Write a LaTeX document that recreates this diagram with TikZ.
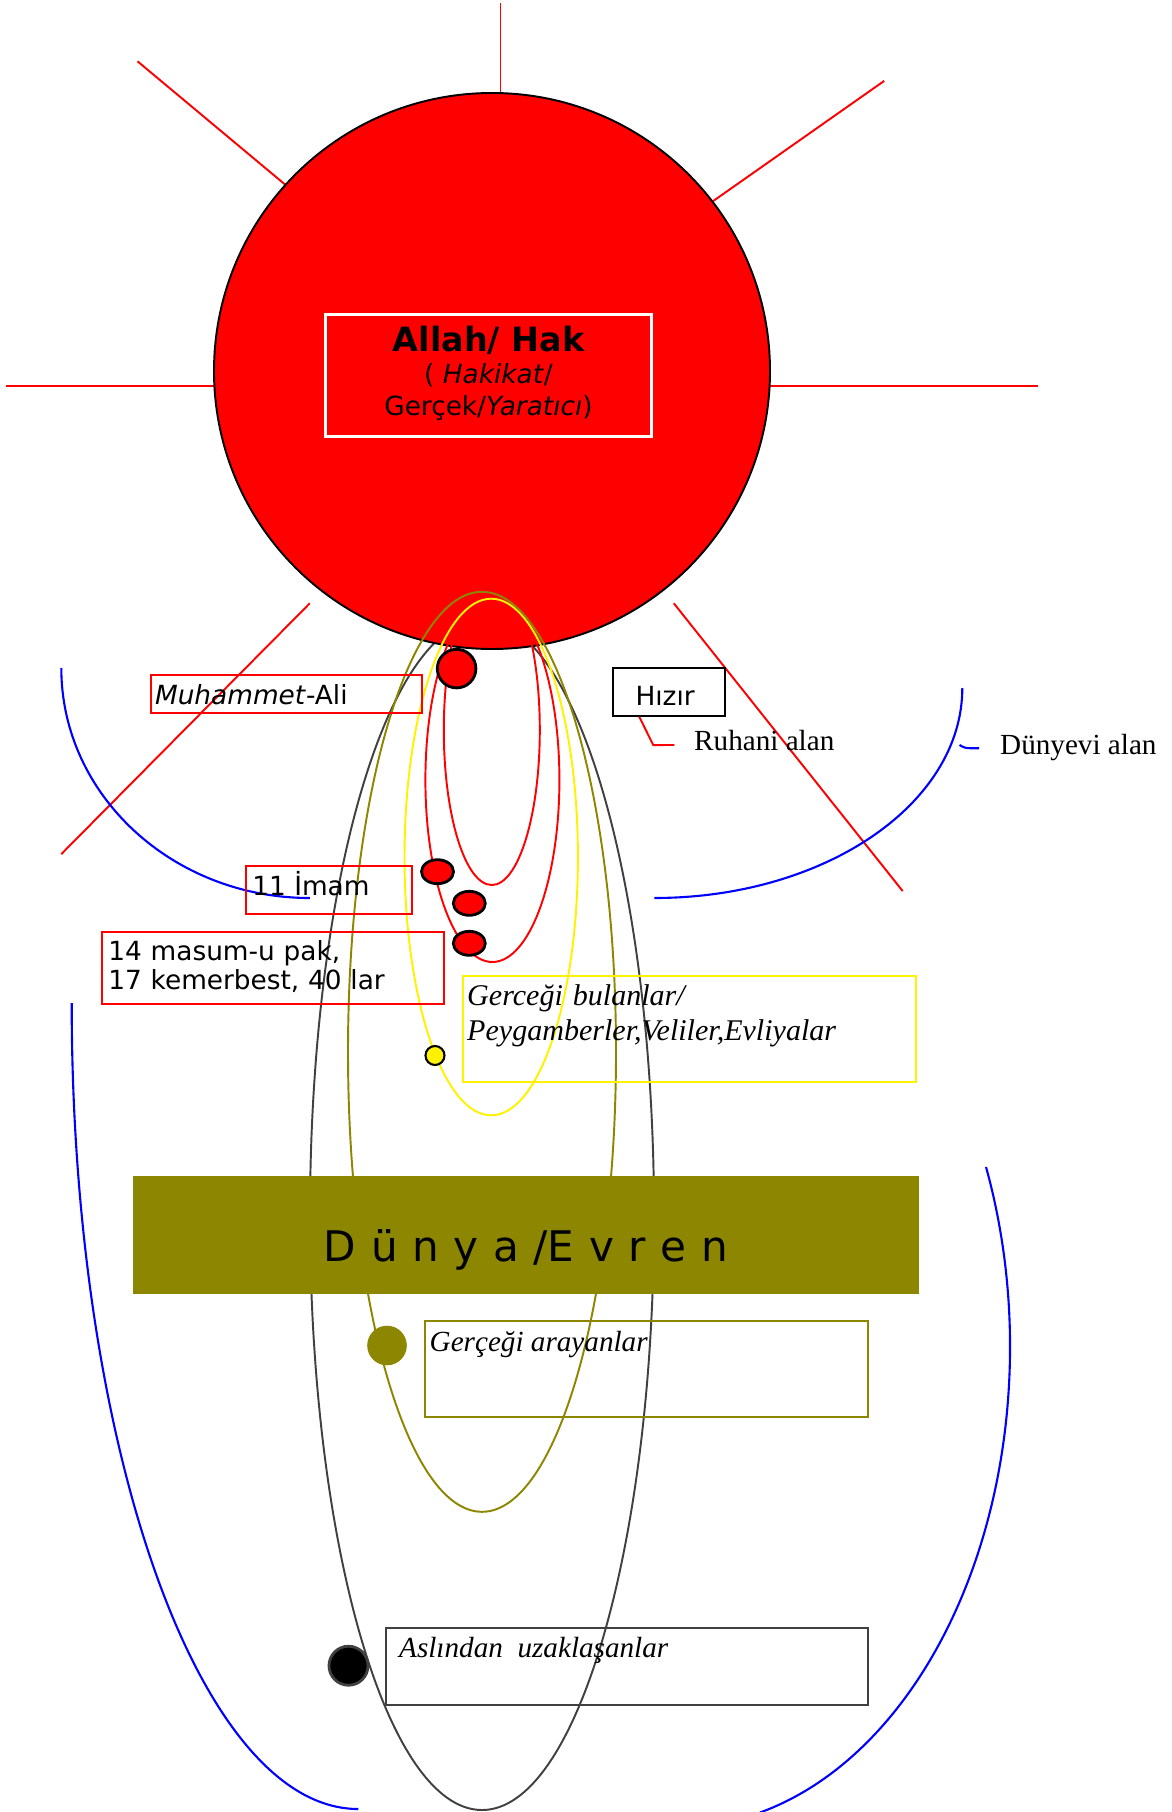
\documentclass[tikz,border=0pt]{standalone}
\usepackage{fontspec}
\setmainfont{Liberation Serif}
\setsansfont{DejaVu Sans}

\begin{document}
\begin{tikzpicture}[x=0.1mm, y=-0.1mm,
  ray/.style={red, line width=0.55pt},
  orbit/.style={line width=0.55pt},
  field/.style={blue, line width=0.6pt},
  box/.style={draw, line width=0.6pt, inner sep=0pt},
  sans/.style={font=\sffamily\fontsize{7.5}{8.5}\selectfont, inner sep=0pt, anchor=base west},
  serif/.style={font=\fontsize{8.3}{9.76}\selectfont, inner sep=0pt, anchor=base west},
  emtxt/.style={serif, font=\fontsize{8.3}{9.76}\selectfont\itshape},
  dot/.style={draw=black, fill=red, line width=0.8pt}]

  \useasboundingbox (0,0) rectangle (1172,1812);

  % Outer orbit, behind the sun
  \draw[orbit, darkgray] (482,1215) ellipse [x radius=172, y radius=595];

  % Rays
  \draw[ray] (500.5,3.5) -- (500.5,92.5);
  \draw[ray] (137.5,61.3) -- (285.5,184.9);
  \draw[ray] (884.2,80.9) -- (713.1,201.1);
  \draw[ray] (5.8,386) -- (213.8,386);
  \draw[ray] (769.8,386) -- (1037.9,386);
  \draw[ray] (309.8,603.3) -- (61.3,854.1);
  \draw[ray] (673.8,603.3) -- (902.7,891.1);

  % Sun
  \draw[fill=red, line width=0.55pt] (492,371) circle [radius=278];
  \node[box, draw=white, line width=0.8pt, minimum width=32.6mm, minimum height=12.24mm] (hakbox) at (488.7,375.5) {};
  \node[align=center, font=\sffamily\fontsize{7.5}{9.2}\selectfont, inner sep=0pt] (hak) at (488.5,373.5)
    {{\fontsize{9.5}{9.5}\selectfont\bfseries Allah/ Hak}\\( \textit{Hakikat}/\\Gerçek/\textit{Yaratıcı})};

  % Orbits
  \draw[orbit, red] (491.8,730) ellipse [x radius=48, y radius=155];
  \draw[orbit, red] (492.4,780) ellipse [x radius=67, y radius=182];
  \draw[orbit, yellow] (491.2,857) ellipse [x radius=86.7, y radius=258.3];
  \draw[orbit, olive] (482,1051.8) ellipse [x radius=134, y radius=460];

  % Fields
  \draw[field] (61.3,668) arc [start angle=180, end angle=90, x radius=248.5, y radius=230];
  \draw[field] (962.3,688) arc [start angle=0, end angle=90, x radius=308, y radius=210];
  \draw[field] (71.7,1003.2) arc [start angle=180, end angle=90, x radius=286.6, y radius=805.8];
  \draw[field] (986,1167) arc [start angle=-22, end angle=76, x radius=330, y radius=480];

  % Dunya
  \node[box, draw=olive, fill=olive, minimum width=78.4mm, minimum height=11.67mm] (dunya) at (526,1235) {};
  \node[font=\sffamily\fontsize{12}{14}\selectfont, inner sep=0pt, anchor=base] (dunyat) at (525.9,1261.7)
    {\spaceskip=4.15pt D ü n y a /E v r e n};

  % Boxes
  \node[box, draw=red, minimum width=27.1mm, minimum height=3.83mm] (mali) at (286.2,694.2) {};
  \node[box, minimum width=11.26mm, minimum height=4.74mm] (hizir) at (669.1,692) {};
  \node[box, draw=red, minimum width=16.6mm, minimum height=4.8mm] (imam) at (329,890) {};
  \node[box, draw=red, minimum width=34.2mm, minimum height=7.2mm] (masum) at (273.3,967.7) {};
  \node[box, draw=yellow, minimum width=45.33mm, minimum height=10.57mm] (bulan) at (689.4,1028.9) {};
  \node[box, draw=olive, minimum width=44.27mm, minimum height=9.6mm] (arayan) at (646.7,1369) {};
  \node[box, draw=darkgray, minimum width=48.2mm, minimum height=7.65mm] (uzak) at (627,1666.3) {};

  % Labels
  \node[sans] (malit) at (154.3,704.3) {\textit{Muhammet}-Ali};
  \node[sans] (hizirt) at (634.8,705.7) {Hızır};
  \node[serif] (ruhani) at (693.5,750) {Ruhani alan};
  \node[serif] (dunyevi) at (999.5,754) {Dünyevi alan};
  \node[sans] (imamt) at (251.7,895.7) {11 İmam};
  \node[sans, text width=33mm, align=left] (masumt) at (107.7,960) {14 masum-u pak,\\17 kemerbest, 40 lar};
  \node[emtxt, font=\fontsize{8.55}{9.76}\selectfont\itshape, text width=44mm, align=left] (bulant) at (466.5,1005.7)
    {Gerceği bulanlar/\\Peygamberler,Veliler,Evliyalar};
  \node[emtxt] (arayant) at (429,1351) {Gerçeği arayanlar};
  \node[emtxt] (uzakt) at (398.5,1657) {Aslından~ uzaklaşanlar};

  % Leaders
  \draw[ray] ([xshift=2.75mm]hizir.south west) -- ++(14,28.3) -- ([xshift=-1.92mm, yshift=0.5mm]ruhani.base west);
  \coordinate (tick) at (959.5,745);
  \draw[field] (tick) .. controls (965,748.3) .. ([xshift=-2.03mm, yshift=0.57mm]dunyevi.base west);

  % Dots
  \draw[dot] (456.6,668.6) circle [radius=19.3];
  \draw[dot] (437.5,871.7) ellipse [x radius=16, y radius=12];
  \draw[dot] (469.3,903.3) ellipse [x radius=16, y radius=12];
  \draw[dot] (469.3,943.3) ellipse [x radius=16, y radius=12];
  \draw[dot, fill=yellow, line width=0.6pt] (435,1055.5) circle [radius=9.5];
  \fill[olive] (387,1345.5) circle [radius=19.8];
  \draw[dot, fill=black, draw=darkgray] (348.5,1665.7) circle [radius=19.5];

\end{tikzpicture}
\end{document}
